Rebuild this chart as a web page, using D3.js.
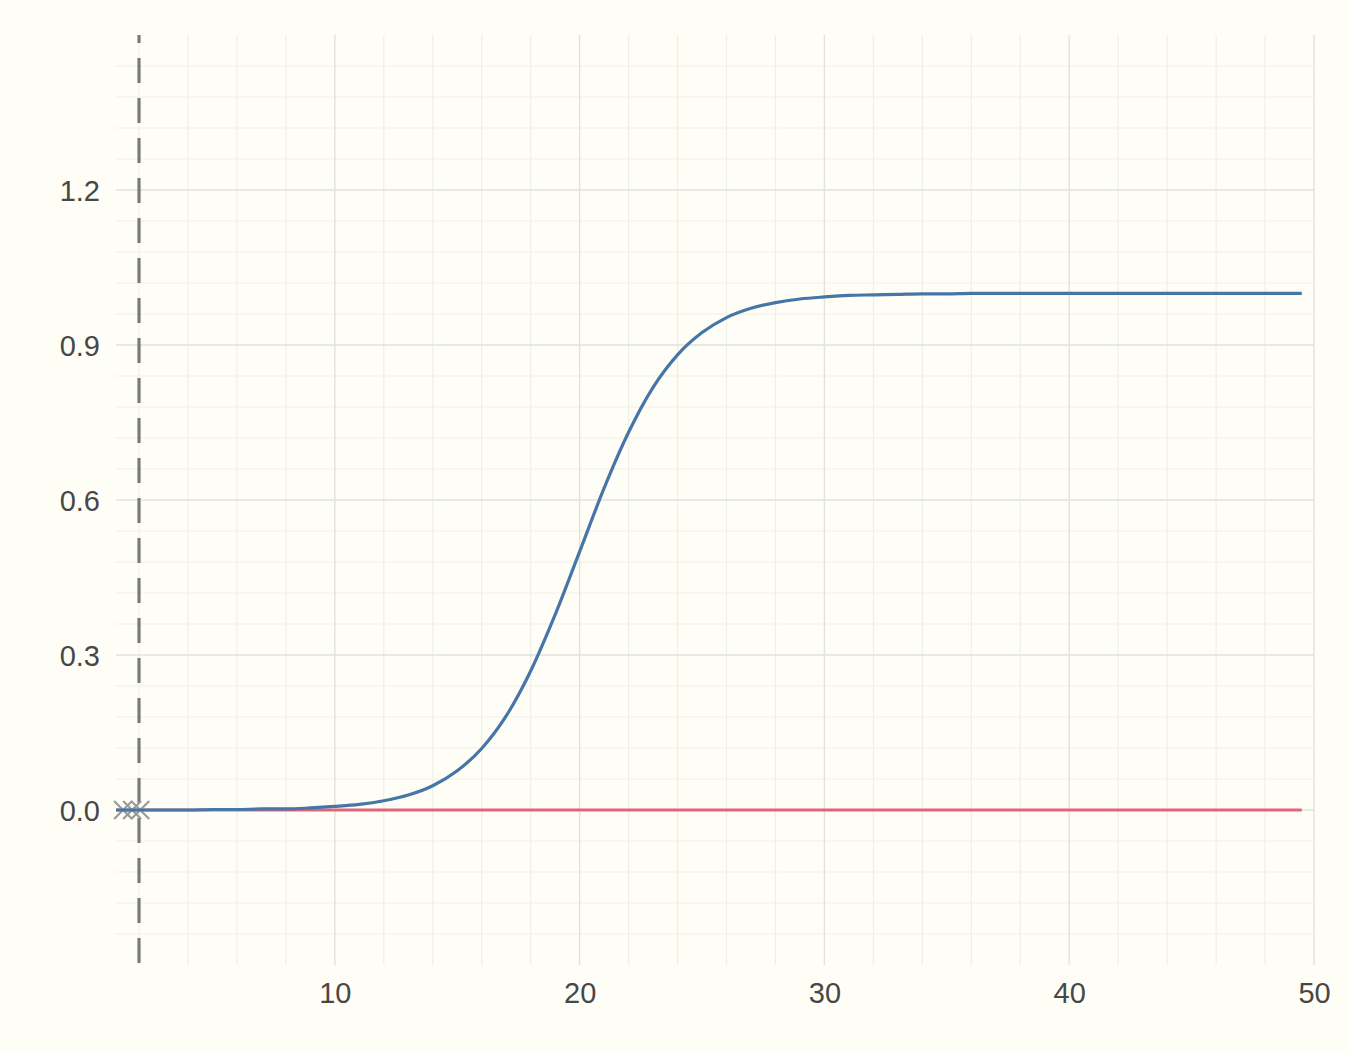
<!DOCTYPE html>
<html><head><meta charset="utf-8">
<script src="https://cdn.jsdelivr.net/npm/d3@7"></script>
<style>
html,body{margin:0;padding:0;background:#fffef6;}
svg{display:block;}
text{font-family:"Liberation Sans",Arial,Helvetica,sans-serif;}
</style></head>
<body>
<svg id="c" width="1350" height="1050"></svg>
<script>
// ---- data ----
const curveX = [1,2,3,4,5,6,7,8,9,10,11,12,13,14,15,16,17,18,19,20,21,22,23,24,25,26,27,28,29,30,31,32,33,34,35,36,37,38,39,40,41,42,43,44,45,46,47,48,49,49.5];
const curveY = [0.000,0.000,0.000,0.000,0.001,0.001,0.002,0.002,0.004,0.007,0.011,0.018,0.029,0.047,0.076,0.119,0.182,0.269,0.378,0.500,0.623,0.731,0.818,0.881,0.924,0.953,0.971,0.982,0.989,0.993,0.996,0.997,0.998,0.999,0.999,1.000,1.000,1.000,1.000,1.000,1.000,1.000,1.000,1.000,1.000,1.000,1.000,1.000,1.000,1.000];
const zeroLineX = [1.06, 49.5];
const zeroLineY = [0, 0];
const crossX = [1.35, 1.72, 2.05];
const crossY = [0, 0, 0];
const vlineX = 2;
const xTicks = [10,20,30,40,50];
const xMinor = [2,4,6,8,12,14,16,18,22,24,26,28,32,34,36,38,42,44,46,48];
const yTicks = [0.0,0.3,0.6,0.9,1.2];
const yTickLabels = ["0.0","0.3","0.6","0.9","1.2"];
const yMinor = [-0.24,-0.18,-0.12,-0.06,0.06,0.12,0.18,0.24,0.36,0.42,0.48,0.54,0.66,0.72,0.78,0.84,0.96,1.02,1.08,1.14,1.26,1.32,1.38,1.44];

// ---- layout ----
const L = 116, R = 1314, T = 35, B = 965;
const x = d3.scaleLinear().domain([1.06, 50]).range([L, R]);
const y = d3.scaleLinear().domain([-0.3, 1.5]).range([B, T]);
const svg = d3.select("#c");
svg.append("rect").attr("width",1350).attr("height",1050).attr("fill","#fffef6");

const g = svg.append("g");
// minor grid
g.selectAll(".vmin").data(xMinor).join("line")
  .attr("x1",d=>x(d)).attr("x2",d=>x(d)).attr("y1",T).attr("y2",B)
  .attr("stroke","#efefe9").attr("stroke-width",1.2);
g.selectAll(".hmin").data(yMinor).join("line")
  .attr("x1",L).attr("x2",R).attr("y1",d=>y(d)).attr("y2",d=>y(d))
  .attr("stroke","#efefe9").attr("stroke-width",1.2);
// major grid
g.selectAll(".vmaj").data(xTicks).join("line")
  .attr("x1",d=>x(d)).attr("x2",d=>x(d)).attr("y1",T).attr("y2",B)
  .attr("stroke","#e2e2dc").attr("stroke-width",1.4);
g.selectAll(".hmaj").data(yTicks).join("line")
  .attr("x1",L).attr("x2",R).attr("y1",d=>y(d)).attr("y2",d=>y(d))
  .attr("stroke","#e2e2dc").attr("stroke-width",1.4);

// axes labels
const xAxis = d3.axisBottom(x).tickValues(xTicks).tickSize(0).tickPadding(0).tickFormat(d3.format("d"));
const ax = svg.append("g").attr("transform",`translate(0,${B})`).call(xAxis);
ax.select(".domain").remove();
ax.selectAll("text").attr("font-size",29).attr("fill","#474747").attr("dy",null).attr("y",38);

const yAxis = d3.axisLeft(y).tickValues(yTicks).tickSize(0).tickPadding(0).tickFormat((d,i)=>yTickLabels[i]);
const ay = svg.append("g").attr("transform",`translate(${100},0)`).call(yAxis);
ay.select(".domain").remove();
ay.selectAll("text").attr("font-size",29).attr("fill","#474747").attr("x",0).attr("dy","0.35em");

// dashed vertical line
svg.append("line").attr("x1",x(vlineX)).attr("x2",x(vlineX)).attr("y1",T).attr("y2",B)
  .attr("stroke","#7a7a7a").attr("stroke-width",3.2).attr("stroke-dasharray","25,15").attr("stroke-dashoffset",17);

// red zero line
const line = d3.line().x(d=>x(d[0])).y(d=>y(d[1]));
svg.append("path").datum(zeroLineX.map((v,i)=>[v,zeroLineY[i]]))
  .attr("d",line).attr("fill","none").attr("stroke","#e2647a").attr("stroke-width",3.2);

// crosses
svg.append("defs").append("clipPath").attr("id","clip").append("rect")
  .attr("x",L).attr("y",T).attr("width",R-L).attr("height",B-T);
const cg = svg.append("g");
cg.selectAll(".cross").data(crossX.map((v,i)=>[v,crossY[i]])).join("path")
  .attr("transform",d=>`translate(${x(d[0])},${y(d[1])})`)
  .attr("d","M-9,-9L9,9M-9,9L9,-9")
  .attr("stroke","#9a9a9a").attr("stroke-width",2.2).attr("fill","none");

// blue logistic curve
svg.append("path").datum(curveX.map((v,i)=>[v,curveY[i]]))
  .attr("d",d3.line().x(d=>x(d[0])).y(d=>y(d[1])).curve(d3.curveMonotoneX))
  .attr("clip-path","url(#clip)")
  .attr("fill","none").attr("stroke","#4676a8").attr("stroke-width",3.2);
</script>
</body></html>
